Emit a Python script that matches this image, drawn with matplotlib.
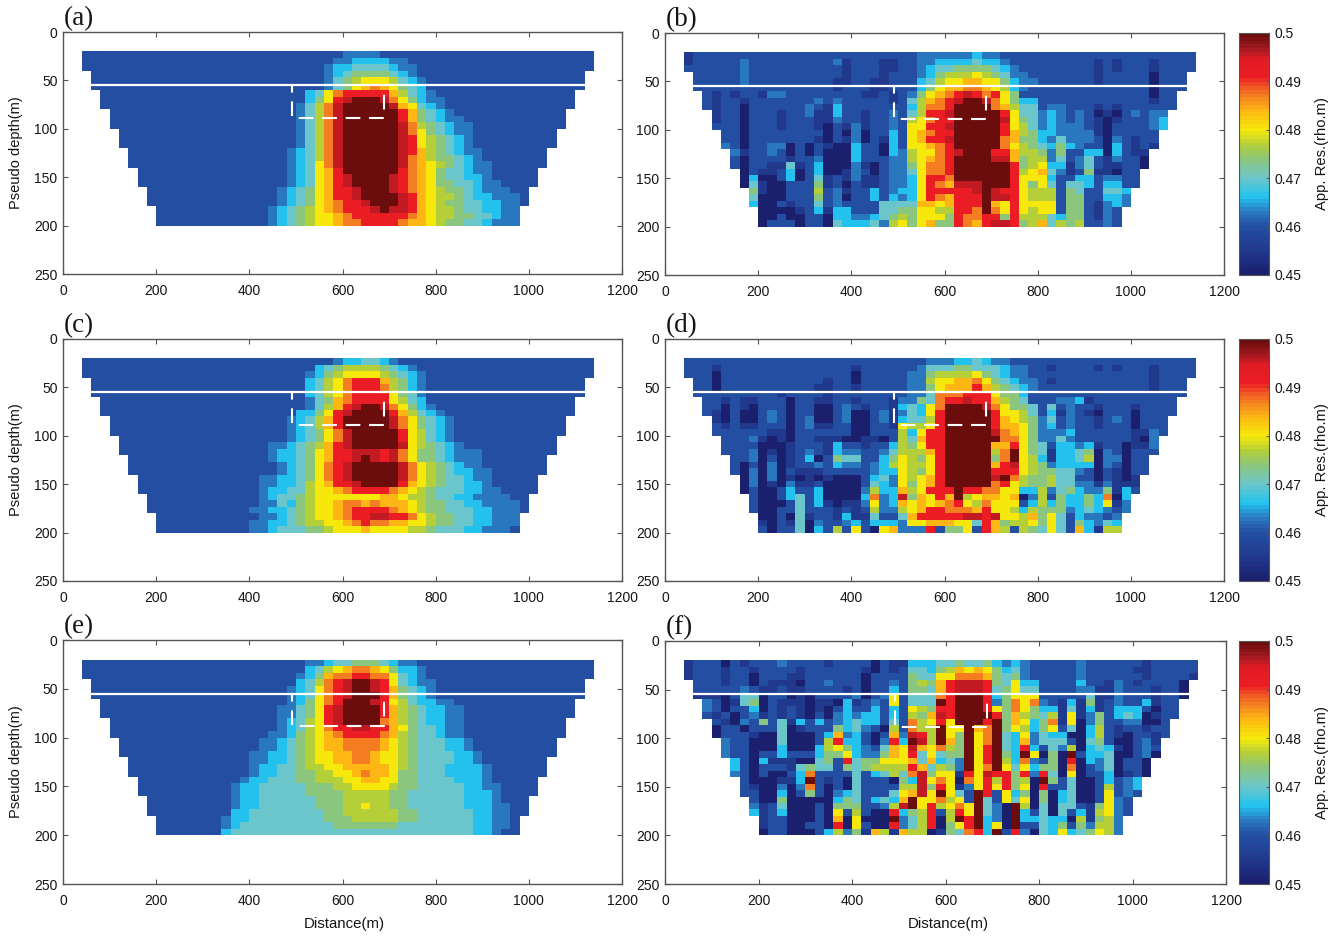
import numpy as np
from matplotlib import pyplot as plt
from matplotlib.colors import LinearSegmentedColormap

plt.rcParams['font.family'] = ['Liberation Sans', 'DejaVu Sans']

# one character per cell, '.' = no data
LEVELS = {'0': 0.450, '1': 0.455, '2': 0.460, '3': 0.463, '4': 0.466, '5': 0.470, '6': 0.474,
          '7': 0.477, '8': 0.480, '9': 0.484, 'a': 0.487, 'b': 0.491, 'c': 0.496, 'd': 0.500}

PANEL_A = [
    "2222222222 2222222222 2222222233 3322222222 2222222222 22222",
    "2222222222 2222222222 2222222334 4443322222 2222222222 22222",
    "2222222222 2222222222 2222223445 5554332222 2222222222 22222",
    ".222222222 2222222222 2222223456 6665432222 2222222222 2222.",
    ".222222222 2222222222 2222223567 8887543222 2222222222 2222.",
    ".222222222 2222222222 2222223568 9a98654222 2222222222 2222.",
    "..22222222 2222222222 2222458abb bbb9754322 2222222222 222..",
    "..22222222 2222222222 2222468bcd ddca864332 2222222222 222..",
    "..22222222 2222222222 222357acdd dddc985432 2222222222 222..",
    "...2222222 2222222222 222357acdd ddddb96543 2222222222 22...",
    "...2222222 2222222222 222357acdd ddddb96543 3222222222 22...",
    "...2222222 2222222222 222357acdd ddddca7654 3322222222 22...",
    "....222222 2222222222 222357acdd ddddca8654 3322222222 2....",
    "....222222 2222222222 222357acdd ddddcb8765 4322222222 2....",
    "....222222 2222222222 222357acdd ddddcb8765 4322222222 2....",
    ".....22222 2222222222 223457acdd ddddcb9765 4332222222 .....",
    ".....22222 2222222222 223457acdd ddddca9766 5432222222 .....",
    ".....22222 2222222222 223458acdd ddddca9876 5433222222 .....",
    "......2222 2222222222 2234589bdd ddddba9865 543322222. .....",
    "......2222 2222222222 2234589bcd dddcba9865 544322222. .....",
    "......2222 2222222222 2234589bcd dddcba9866 554332222. .....",
    ".......222 2222222222 2345689bbc dddcba9876 65433322.. .....",
    ".......222 2222222222 2345689bbc ddddcb9877 65443332.. .....",
    ".......222 2222222222 2345689abb cdddcb9876 65544332.. .....",
    "........22 2222222222 3456789abb bcdccb9877 6554433... .....",
    "........22 2222222222 34567889ab bbbbba9877 6655433... .....",
    "........22 2222222222 34567889aa bbbba99876 6554333... .....",
]

PANEL_B = [
    "1222222222 2222222222 2222233333 3433222222 2222222222 22222",
    "1222223222 2222223122 2112233444 4544322222 2222121222 12222",
    "2222223222 2222222122 2112234556 6665432222 2222121222 12222",
    ".222223222 2222222122 2122234677 7876533222 2222122222 0222.",
    ".222223222 2222221122 1122245788 9988643322 2222122222 0222.",
    ".222222222 2222221222 1122246899 aa98743222 2222222222 0222.",
    "..21212213 3222222221 12123689ab cbab862222 2222222222 022..",
    "..21221222 2222323222 2212579abc ddca864422 2222222222 122..",
    "..21220222 2223214222 222247aabd ddda975523 3222121222 222..",
    "...1220222 1223114221 223257bbcd ddddb85534 3232010232 33...",
    "...1220222 1222113221 223278abbd ddddc86534 3232101222 34...",
    "...2220222 1222102131 223288bbcd ddddb87534 3332102222 34...",
    "....220222 2222202030 224289abbd ddddb97644 3333102222 2....",
    "....220222 2222102130 214289bbcd dddda96643 5333203212 2....",
    "....320223 3020210042 2042889abd dddda87654 6432204212 1....",
    ".....31223 2020200042 2043788abc dddbb97763 6224404211 .....",
    ".....20222 2122300042 2233789abd dddcc96773 5235213220 .....",
    ".....20221 1512400031 023368aabd dddddb6784 4135211220 .....",
    "......0211 2402400132 023358aabd dddddb7895 312611022. .....",
    "......0400 2402512131 123348bbad dddddb8884 224423322. .....",
    "......0510 0222612021 123348ba9c ccdddb8685 255424422. .....",
    ".......610 0222723122 423448bbbb bcdcbb8777 26522554.. .....",
    ".......500 0222623022 424348ba9b bbdccb8777 26622443.. .....",
    ".......400 2122523222 255559989b bbd98b8888 26621343.. .....",
    "........00 0012414422 255668877b bada8b8788 2662132... .....",
    "........00 2002204433 456768886b aabb6b7775 4662132... .....",
    "........02 2202205444 537868966b a9bccb6795 7672232... .....",
]

PANEL_C = [
    "2222222222 2222222222 2222222344 5543222222 2222222222 22222",
    "2222222222 2222222222 2222245677 7765432222 2222222222 22222",
    "2222222222 2222222222 2222346788 8876543222 2222222222 22222",
    ".222222222 2222222222 22224578ab bb97643222 2222222222 2222.",
    ".222222222 2222222222 22224578ab bba7643222 2222222222 2222.",
    ".222222222 2222222222 22224578ab bbb8653222 2222222222 2222.",
    "..22222222 2222222222 22223569ab bbb8754222 2222222222 222..",
    "..22222222 2222222222 22223579bc ddca864322 2222222222 222..",
    "..22222222 2222222222 2224468bcd dddb975432 2222222222 222..",
    "...2222222 2222222222 2234579bdd dddca86543 2222222222 22...",
    "...2222222 2222222222 2234579bdd dddca86543 2222222222 22...",
    "...2222222 2222222222 2234568acd ddddb87543 2222222222 22...",
    "....222222 2222222222 2234568acd ddddb87543 2222222222 2....",
    "....222222 2222222222 3345679bcd ddddc87654 3222222222 2....",
    "....222222 2222222222 3445689bbc ccbca86654 3332222222 2....",
    ".....22222 2222222222 3445689bbc dcbca86654 3332222222 .....",
    ".....22222 2222222222 234568abcd ddddca8765 4332222222 .....",
    ".....22222 2222222222 234568abcd ddddca8765 4433222222 .....",
    "......2222 2222222223 344568abcd ddddca8765 543322222. .....",
    "......2222 2222222223 3445789bbc ddddb98765 544322222. .....",
    "......2222 2222222223 44557889ab bbba987655 544332222. .....",
    ".......222 2222222223 4556788888 8899877655 44333322.. .....",
    ".......222 2222222223 35467889aa 9a99987665 54433332.. .....",
    ".......222 2222222233 44567889ab bbba987665 55443332.. .....",
    "........22 2222222223 34567889ab bccbba8766 5544333... .....",
    "........22 2222222233 445677889a baa9988766 5544333... .....",
    "........22 2222222233 4555667888 9888877655 5443332... .....",
]

PANEL_D = [
    "2222222222 2222222222 2222223334 4543322222 2222222222 22222",
    "2221222222 2222222212 2222235556 6555433221 2222121222 12222",
    "2220222222 2222222202 2222336777 7865433222 2222222222 12222",
    ".220222222 2222212202 2222337889 9a86543321 2222222222 1222.",
    ".220222222 2222112212 2222336899 9b97654322 2222222222 1222.",
    ".222222222 1222212222 2222335aaa bbb8664222 2222222222 2222.",
    "..22121122 2022112212 2213365abb cbb9765222 3341222222 222..",
    "..22021022 2022002321 2214548add ddca866525 2322122212 222..",
    "..21020023 2022002300 2313548bdd dddb887524 1321022202 222..",
    "...1020023 2023002300 2314557bdd dddb987635 2322123202 22...",
    "...2121122 2023112200 2218778bdd dddb998634 2322122202 22...",
    "...2222221 1022222200 222748bbdd dddca98633 3422222211 32...",
    "....222310 1022111001 102759bbdd ddddaa8633 5322222210 3....",
    "....222200 0122214221 224768bbdd ddd99b8652 4434122011 3....",
    "....222301 0123214332 2357779bdd ddd7ad8651 4456032022 2....",
    ".....22302 0124026552 2468768bdd ddd6ad8741 4457033022 .....",
    ".....20203 0122324332 3478778bdd ddd9bc8763 4444032022 .....",
    ".....20303 0211122222 3448768bdd dddbbb8766 5532021022 .....",
    "......0303 0101010002 4538789bdd dddcda7667 552202101. .....",
    "......0301 0311200002 5438689bdd dddab87667 553313111. .....",
    "......0200 2422400003 744978bbbd bbaa884473 564336142. .....",
    ".......200 2452400004 a34c698b9d 7899890372 64464a04.. .....",
    ".......200 0252410113 83498989ab 87a8882474 64464813.. .....",
    ".......200 2252221212 733789bbaa a9b8874766 63454323.. .....",
    "........00 2051221411 52259bbbbb ccbc887968 5243323... .....",
    "........10 2150322342 4443889998 85b9677868 5264354... .....",
    "........20 2250427282 089333b266 82b9727658 5294177... .....",
]

PANEL_E = [
    "2222222222 2222222222 2222334556 6654332222 2222222222 22222",
    "2222222222 2222222222 222245789a a986443222 2222222222 22222",
    "2222222222 2222222222 2223469aab baa8543222 2222222222 22222",
    ".222222222 2222222222 222457abcd dcb8543322 2222222222 2222.",
    ".222222222 2222222222 223458abcd dcb9654322 2222222222 2222.",
    ".222222222 2222222222 223458abcd ddb9654322 2222222222 2222.",
    "..22222222 2222222222 223468abdd dcb8754433 2222222222 222..",
    "..22222222 2222222222 233568bcdd ddb9765443 3222222222 222..",
    "..22222222 2222222222 233568bcdd ddb9765443 3222222222 222..",
    "...2222222 2222222222 234578bcdd dda9765443 3222222222 22...",
    "...2222222 2222222222 234578abbc cbb9865543 3222222222 22...",
    "...2222222 2222222222 3346789abb bba9765543 3222222222 22...",
    "....222222 2222222223 34567899aa aa98765554 4322222222 2....",
    "....222222 2222222223 34567899aa aa98765554 4322222222 2....",
    "....222222 2222222233 445678899a a988765555 4432222222 2....",
    ".....22222 2222222233 445678899a a988765555 4432222222 .....",
    ".....22222 2222222234 4556778899 9998765554 4443222222 .....",
    ".....22222 2222222234 4556677889 a998665554 4443222222 .....",
    "......2222 2222222344 5556677788 9988665555 444322222. .....",
    "......2222 2222223445 5555666778 8887665555 544332222. .....",
    "......2222 2222223445 5555666677 7776655555 544432222. .....",
    ".......222 2222223445 5555566677 7776655555 54443222.. .....",
    ".......222 2222223445 5555566677 8776655555 54443322.. .....",
    ".......222 2222224455 5555556677 7777665555 55443322.. .....",
    "........22 2222234455 5555556667 7777665555 5544332... .....",
    "........22 2222234555 5555555666 6666555555 5544332... .....",
    "........22 2222245555 5555555555 5555555555 5544322... .....",
]

PANEL_F = [
    "1222021222 3222212222 0211444556 5564343222 2232222221 22222",
    "1222122122 2212222221 0212554679 8986453222 2232222211 22222",
    "1222122022 2112222220 222265588a aa96563222 2232222221 22221",
    ".222122021 1102232220 22326769bc ccb6584422 2242213212 2220.",
    ".222223211 2112222120 22426659bc ccb5685522 2233113222 1220.",
    ".111025502 2010222230 2382555abd ddb4688822 2225113222 1220.",
    "..32015602 1110110412 3282555dbd ddb36a8a32 1416123224 122..",
    "..32022402 1210102422 4242876bbd ddb86a8644 1514124442 022..",
    "..21202312 1210203434 4242769cbd dddb697657 1813624540 122..",
    "...2103262 5142423454 4252a78b8d ddbd69846a 1803622330 02...",
    "...0220222 5012226453 2072a77d88 d9ad687468 2504721221 22...",
    "...0222100 5000249342 0293cb7d86 d8ad548354 4004721022 12...",
    "....322000 500027b442 03b4dc7d96 d8ad549355 5205620023 1....",
    "....322000 4000478643 2598c98a76 d8bd54b425 3704541023 2....",
    "....322022 4222466843 3698b58566 d8bd64d806 0d24450023 0....",
    ".....42041 1100562b56 6888959453 d8bd74a326 0b04350220 .....",
    ".....42022 2156552656 7777b95763 d8ad858466 0a02350220 .....",
    ".....32020 024a222252 4575ac6881 b8cbb6b3b5 0802240120 .....",
    "......2000 114d212052 22064c8a80 a8b7b670d6 250024234. .....",
    "......2100 303a202052 22277c6b81 38b8b680b2 250027234. .....",
    "......2200 4026203452 22589c8d85 2db2846060 450028232. .....",
    ".......200 6000004652 4549d88a78 2d52858060 45002832.. .....",
    ".......312 5000206662 237cd8b78a 8d530d7050 55216832.. .....",
    ".......412 4000208272 00b467b27b 8d530d4250 52417832.. .....",
    "........12 2000209080 00d357b07d bd430d4454 4071673... .....",
    "........12 200220b082 00b357b068 bd480d2254 6263773... .....",
    "........02 2000247361 9719770165 ab4d2b3054 8456873... .....",
]

LETTERS = ['(a)', '(b)', '(c)', '(d)', '(e)', '(f)']
X_TICKS = [0, 200, 400, 600, 800, 1000, 1200]
Y_TICKS = [0, 50, 100, 150, 200, 250]
CB_TICKS = [0.45, 0.46, 0.47, 0.48, 0.49, 0.5]
CB_LABELS = ['0.45', '0.46', '0.47', '0.48', '0.49', '0.5']
CMAP_STOPS = [(0.450, '#1a1f6e'), (0.455, '#213a8f'), (0.460, '#2350a3'), (0.463, '#2a7cc0'),
              (0.466, '#22c4f0'), (0.470, '#6dc6c8'), (0.474, '#8cc67a'), (0.477, '#b5cf38'),
              (0.480, '#f5ea0a'), (0.484, '#fdb813'), (0.487, '#f58220'), (0.489, '#f15a24'),
              (0.491, '#ed1c24'), (0.495, '#e01b24'), (0.497, '#a31a20'), (0.500, '#6b0d0d')]

W, H = 1344, 936
cmap = LinearSegmentedColormap.from_list(
    'res', [(round((v - 0.45) / 0.05, 4), c) for v, c in CMAP_STOPS], N=64)
x_edges = np.arange(40, 1141, 20)
y_edges = np.linspace(20, 200, 28)
GRAY = '#555555'
INK = '#151515'


def parse(rows):
    out = np.full((27, 55), np.nan)
    for r, row in enumerate(rows):
        row = row.replace(' ', '')
        for j, ch in enumerate(row[:55]):
            if ch != '.':
                out[r, j] = LEVELS[ch]
    return out


def add_px(fig, x0, y0, x1, y1):
    return fig.add_axes([x0 / W, 1 - y1 / H, (x1 - x0) / W, (y1 - y0) / H])


def style(ax):
    for s in ax.spines.values():
        s.set_color(GRAY)
        s.set_linewidth(1.0)


fig = plt.figure(figsize=(W / 100, H / 100), dpi=100)
panels = [PANEL_A, PANEL_B, PANEL_C, PANEL_D, PANEL_E, PANEL_F]
boxes = [(63, 32, 622, 274), (665, 33, 1224, 275),
         (63, 339, 622, 581), (665, 339, 1224, 581),
         (63, 640, 622, 884), (665, 641, 1226, 884)]

for i in range(6):
    x0, y0, x1, y1 = boxes[i]
    ax = add_px(fig, x0, y0, x1, y1)
    mesh = ax.pcolormesh(x_edges, y_edges, parse(panels[i]), cmap=cmap, vmin=0.45, vmax=0.5)
    ax.set_xlim(0, 1200)
    ax.set_ylim(250, 0)
    ax.set_xticks(X_TICKS)
    ax.set_yticks(Y_TICKS)
    ax.tick_params(direction='in', top=True, right=True, length=3.5, width=0.8, color=GRAY,
                   labelsize=10, labelcolor=INK, pad=4)
    ax.tick_params(axis='x', pad=7.5)
    style(ax)
    # survey line and target outline
    ax.plot([0, 1200], [55, 55], color='white', lw=1.6, solid_capstyle='butt')
    ax.plot([491, 491, 689, 689], [55, 88.5, 88.5, 55], color='white', lw=1.5,
            linestyle=(3.4, (7.05, 4.2)))
    fig.text((x0 + 1) / W, 1 - (y0 - 13) / H, LETTERS[i], family='Liberation Serif',
             fontsize=19.5, color=INK, va='center', ha='left')
    if i % 2 == 0:
        fig.text(16 / W, 1 - (y0 + y1) / 2 / H, 'Pseudo depth(m)', rotation=90, fontsize=10.5,
                 color=INK, va='center', ha='center')
    else:
        cax = add_px(fig, 1239, y0, 1269, y1)
        cb = fig.colorbar(mesh, cax=cax, ticks=CB_TICKS)
        cb.ax.set_yticklabels(CB_LABELS)
        cb.ax.tick_params(direction='in', length=2.5, width=0.8, color=GRAY, labelsize=10,
                          labelcolor=INK, pad=4)
        cb.outline.set_edgecolor(GRAY)
        cb.outline.set_linewidth(0.8)
        fig.text(1322 / W, 1 - (y0 + y1) / 2 / H, 'App. Res.(rho.m)', rotation=90, fontsize=10.6,
                 color=INK, va='center', ha='center')

fig.text(344 / W, 1 - 924 / H, 'Distance(m)', fontsize=10.8, color=INK, va='center', ha='center')
fig.text(948 / W, 1 - 924 / H, 'Distance(m)', fontsize=10.8, color=INK, va='center', ha='center')

fig.savefig('out.png', dpi=100)
